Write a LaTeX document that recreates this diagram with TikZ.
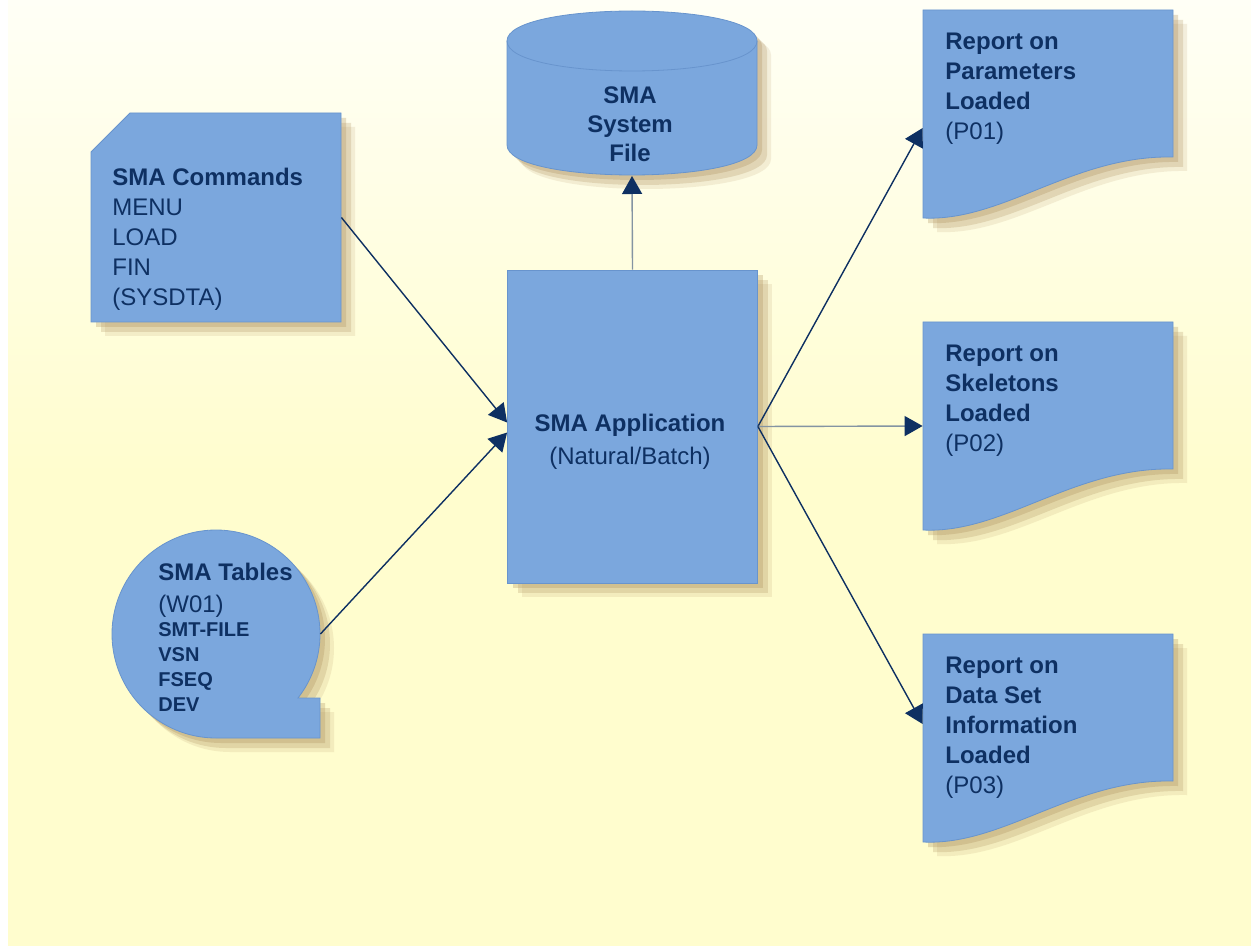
\documentclass[tikz,border=0pt]{standalone}
\usepackage{fontspec}
\setmainfont{Liberation Sans}
\usetikzlibrary{arrows.meta,shadows}
\definecolor{boxblue}{RGB}{123,167,221}
\definecolor{boxedge}{RGB}{104,148,205}
\definecolor{inknavy}{RGB}{14,48,98}
\definecolor{linegrey}{RGB}{132,148,162}
\definecolor{shadowtan}{RGB}{175,145,95}
\definecolor{bgtop}{RGB}{255,255,246}
\definecolor{bgyellow}{RGB}{255,253,206}
\newcommand{\smitem}[1]{{\fontsize{10}{12}\selectfont\bfseries #1}}
\tikzset{
  softshadow/.style={drop shadow={shadow xshift=2.5pt,shadow yshift=-2.5pt,opacity=.3,fill=shadowtan},
    drop shadow={shadow xshift=5pt,shadow yshift=-5pt,opacity=.25,fill=shadowtan},
    drop shadow={shadow xshift=7pt,shadow yshift=-7pt,opacity=.15,fill=shadowtan}},
  panel/.style={fill=boxblue, draw=boxedge, line width=0.4pt, softshadow},
  holder/.style={draw=none, inner sep=0pt},
  inktext/.style={text=inknavy, inner sep=0pt, align=left, font=\fontsize{12}{15}\selectfont},
  flow/.style={draw=inknavy, line width=0.7pt, -{Triangle[length=9pt,width=10pt,color=inknavy]}},
  flowgrey/.style={flow, draw=linegrey}
}
\begin{document}
\begin{tikzpicture}[x=0.5pt,y=-0.5pt]
\useasboundingbox (0,0) rectangle (1251,946);
\fill [white] (0,0) rectangle (1251,946);
\shade [top color=bgtop, bottom color=bgyellow, middle color=bgyellow] (8,0) rectangle (1251,946);

\path [panel] (507,41) -- (507,145) .. controls (507,185) and (757,185) .. (757,145) -- (757,41) .. controls (757,1) and (507,1) .. (507,41) -- cycle;
\draw [boxedge, line width=0.4pt] (507,41) .. controls (507,81) and (757,81) .. (757,41);
\node (sys) at (630,124) [inktext, align=center] {\textbf{SMA}\\[-0.5pt]\textbf{System}\\[-0.5pt]\textbf{File}};
\coordinate (sysbase) at (632,176);

\path [panel] (91,152) -- (130,113) -- (341,113) -- (341,322) -- (91,322) -- cycle;
\node (cmd) at (216,217.5) [holder, minimum width=125pt, minimum height=104.5pt] {};
\node (cmdtxt) at (112,168) [inktext, anchor=north west] {\textbf{SMA Commands}\\MENU\\LOAD\\FIN\\(SYSDTA)};

\path [panel] (216,738) arc [start angle=270, end angle=-38, radius=52pt] -- (320,698) -- (320,738) -- cycle;
\node (tab) at (216,634) [holder, circle, minimum size=104pt] {};
\node (tabtxt) at (158,563) [inktext, anchor=north west] {\textbf{SMA Tables}\\[1pt](W01)\\[-3pt]\smitem{SMT-FILE}\\[-2.5pt]\smitem{VSN}\\[-2.5pt]\smitem{FSEQ}\\[-2.5pt]\smitem{DEV}};

\node (app) at (632.5,426.5) [panel, minimum width=125pt, minimum height=156.5pt] {};
\node (apptxt) at (630,442) [inktext, align=center] {\textbf{SMA Application}\\[1.5pt](Natural/Batch)};

\foreach \n/\y/\t in {1/10/{\textbf{Report on}\\\textbf{Parameters}\\\textbf{Loaded}\\(P01)},
                      2/322/{\textbf{Report on}\\\textbf{Skeletons}\\\textbf{Loaded}\\(P02)},
                      3/634/{\textbf{Report on}\\\textbf{Data Set}\\\textbf{Information}\\\textbf{Loaded}\\(P03)}} {
  \begin{scope}[shift={(923,\y)}]
    \path [panel] (0,0) -- (250,0) -- (250,147) .. controls (150,145) and (80,212) .. (0,208) -- cycle;
    \node (doc\n) at (125,104) [holder, minimum width=125pt, minimum height=104pt] {};
    \node (doc\n txt) at (22,23) [inktext, anchor=north west] {\t};
  \end{scope}
}

\draw [flow] (cmd.east) -- ([yshift=2pt]app.west);
\draw [flow] (tab.east) -- ([yshift=-3pt]app.west);
\draw [flowgrey] (app.north) -- (sysbase);
\draw [flow] (app.east) -- ([yshift=-7pt]doc1.west);
\draw [flowgrey] (app.east) -- (doc2.west);
\draw [flow] (app.east) -- ([yshift=7pt]doc3.west);
\end{tikzpicture}
\end{document}
